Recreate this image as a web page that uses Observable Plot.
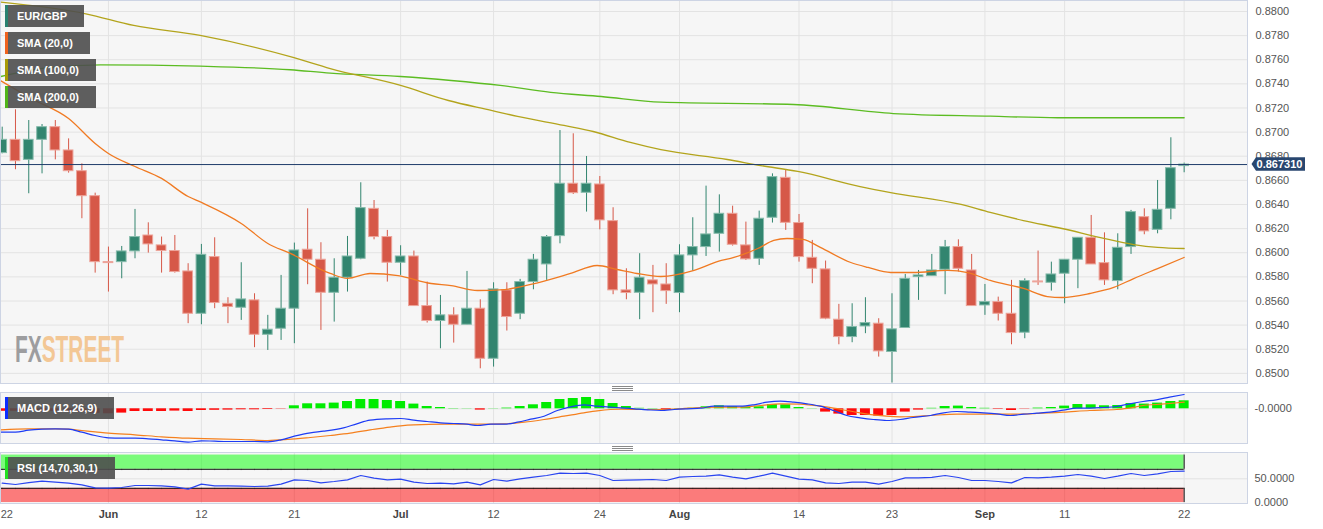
<!DOCTYPE html>
<html><head><meta charset="utf-8">
<script src="https://cdn.jsdelivr.net/npm/d3@7"></script>
<script src="https://cdn.jsdelivr.net/npm/@observablehq/plot@0.6"></script>
<style>
html,body{margin:0;padding:0;background:#fff;}
#chart{position:relative;width:1323px;height:529px;overflow:hidden;font-family:"Liberation Sans",Arial,sans-serif;}
.leg{position:absolute;left:5px;height:22px;line-height:22px;background:rgba(78,78,78,0.9);color:#fff;font-weight:bold;font-size:11px;padding-left:12px;padding-right:17px;box-sizing:border-box;white-space:nowrap;}
.leg::before{content:"";position:absolute;left:0;top:0;bottom:0;width:3px;background:var(--c);}
.handle{position:absolute;left:612px;width:21px;height:5px;box-sizing:border-box;border-top:1px solid #8a8a8a;border-bottom:1px solid #8a8a8a;}
.handle::after{content:"";position:absolute;left:0;right:0;top:1px;border-top:1px solid #8a8a8a;}
#wm{position:absolute;left:15px;top:332px;font-size:36px;line-height:36px;font-weight:bold;transform:scaleX(0.58);transform-origin:0 0;white-space:nowrap;}
</style>
</head>
<body>
<div id="chart"></div>
<script>
// ---- data ----
const xTickIndex = [0, 8, 15, 22, 30, 37, 45, 51, 60, 67, 74, 80, 89];
const xTickLabel = ["22", "Jun", "12", "21", "Jul", "12", "24", "Aug", "14", "23", "Sep", "11", "22"];
const monthNames = ["Jun", "Jul", "Aug", "Sep"];

const open = [0.86826,0.86936,0.86770,0.86936,0.87041,0.86848,0.86676,0.86469,0.85922,0.85922,
0.86011,0.86143,0.86061,0.86014,0.85845,0.85494,0.85964,0.85577,0.85544,0.85605,
0.85320,0.85370,0.85536,0.86025,0.85942,0.85668,0.85793,0.85950,0.86364,0.86130,
0.85917,0.85969,0.85558,0.85434,0.85481,0.85403,0.85536,0.85121,0.85688,0.85494,
0.85757,0.85903,0.86138,0.86572,0.86497,0.86566,0.86262,0.85688,0.85668,0.85771,
0.85737,0.85666,0.85978,0.86047,0.86157,0.86323,0.86061,0.85950,0.86290,0.86621,
0.86246,0.85958,0.85862,0.85445,0.85301,0.85389,0.85412,0.85177,0.85376,0.85798,
0.85806,0.85859,0.86047,0.85853,0.85563,0.85591,0.85494,0.85337,0.85762,0.85751,
0.85826,0.85942,0.86124,0.85914,0.85765,0.86047,0.86295,0.86190,0.86364,0.86718];
const high = [0.87041,0.87185,0.87096,0.87063,0.87096,0.86944,0.86737,0.86494,0.86047,0.86052,
0.86359,0.86248,0.86130,0.86143,0.85909,0.86069,0.86124,0.85627,0.85917,0.85660,
0.85481,0.85812,0.86080,0.86364,0.86083,0.85950,0.86135,0.86580,0.86433,0.86185,
0.86058,0.86014,0.85757,0.85646,0.85544,0.85845,0.85610,0.85751,0.85751,0.85779,
0.85986,0.86143,0.87013,0.86986,0.86798,0.86632,0.86373,0.85867,0.85992,0.85895,
0.85909,0.86066,0.86290,0.86552,0.86480,0.86386,0.86254,0.86345,0.86654,0.86688,
0.86317,0.86102,0.85931,0.85572,0.85577,0.85627,0.85453,0.85660,0.85820,0.85853,
0.85986,0.86102,0.86107,0.85986,0.85737,0.85632,0.85771,0.85784,0.86014,0.85922,
0.85942,0.86124,0.86309,0.86165,0.86157,0.86351,0.86364,0.86599,0.86953,0.86743];
const low = [0.86820,0.86688,0.86489,0.86654,0.86770,0.86660,0.86282,0.85831,0.85674,0.85784,
0.85950,0.85997,0.85831,0.85831,0.85412,0.85403,0.85536,0.85412,0.85439,0.85213,
0.85190,0.85273,0.85246,0.85735,0.85356,0.85425,0.85674,0.85942,0.86107,0.85757,
0.85812,0.85558,0.85417,0.85204,0.85251,0.85403,0.85038,0.85052,0.85351,0.85445,
0.85693,0.85771,0.86074,0.86483,0.86337,0.86190,0.85652,0.85610,0.85445,0.85503,
0.85572,0.85503,0.85848,0.85969,0.86005,0.86055,0.85936,0.85895,0.86246,0.86185,
0.85922,0.85743,0.85445,0.85237,0.85254,0.85329,0.85135,0.84920,0.85376,0.85605,
0.85806,0.85652,0.85840,0.85558,0.85481,0.85434,0.85237,0.85287,0.85729,0.85682,
0.85577,0.85702,0.85903,0.85729,0.85693,0.85986,0.86149,0.86157,0.86273,0.86663];
const close = [0.86936,0.86759,0.86936,0.87041,0.86848,0.86676,0.86469,0.85922,0.85914,0.86011,
0.86130,0.86069,0.86014,0.85840,0.85494,0.85983,0.85583,0.85550,0.85613,0.85320,
0.85362,0.85536,0.86019,0.85942,0.85668,0.85793,0.85969,0.86370,0.86130,0.85917,
0.85969,0.85558,0.85434,0.85481,0.85403,0.85536,0.85121,0.85696,0.85467,0.85757,
0.85942,0.86130,0.86572,0.86494,0.86572,0.86268,0.85688,0.85666,0.85793,0.85737,
0.85682,0.85978,0.86047,0.86152,0.86323,0.86066,0.85945,0.86282,0.86627,0.86248,
0.85964,0.85867,0.85453,0.85301,0.85384,0.85417,0.85182,0.85365,0.85784,0.85812,
0.85853,0.86047,0.85867,0.85558,0.85591,0.85494,0.85334,0.85765,0.85754,0.85820,
0.85942,0.86124,0.85903,0.85771,0.86041,0.86337,0.86177,0.86356,0.86701,0.86731];
const lastPrice = 0.867310;

const sma20 = [[-0.1,0.87425],[2.2,0.87279],[5,0.87113],[7,0.86906],[8,0.86823],[10,0.86715],[12,0.86616],[14,0.86466],[15,0.86417],[18,0.86243],[20,0.86077],[21.7,0.85994],[24.7,0.85828],[26,0.85787],[27.7,0.85828],[29.8,0.85811],[32.3,0.85745],[33.8,0.85728],[35.8,0.85687],[37.8,0.85695],[39.8,0.85737],[42.8,0.85828],[44.8,0.85894],[46.3,0.85861],[47.8,0.85828],[49.6,0.85803],[52.1,0.85853],[53.9,0.85928],[55.1,0.85961],[56.9,0.86035],[58.1,0.86102],[59.1,0.86118],[60.3,0.86110],[61.6,0.86044],[63.9,0.85919],[65.2,0.85878],[66.9,0.85836],[68.6,0.85836],[71.2,0.85853],[72.7,0.85836],[74.4,0.85770],[76.9,0.85704],[78.7,0.85637],[79.8,0.85629],[81.9,0.85662],[83.7,0.85712],[85.2,0.85786],[87,0.85869],[89,0.85961]];
const sma100 = [[-0.1,0.88077],[6.3,0.87981],[9.9,0.87884],[14.9,0.87801],[21.9,0.87619],[24.7,0.87527],[30,0.87387],[33.6,0.87262],[36.9,0.87179],[38.8,0.87130],[42.3,0.87055],[44.5,0.87005],[47.3,0.86914],[49.6,0.86854],[54.6,0.86773],[57.1,0.86723],[59.9,0.86674],[64.6,0.86549],[66.9,0.86499],[72.2,0.86400],[74.4,0.86334],[76.9,0.86267],[79.8,0.86201],[82.7,0.86126],[85.2,0.86068],[87,0.86044],[89,0.86035]];
const sma200 = [[-0.1,0.87461],[3.6,0.87536],[7.4,0.87558],[14.9,0.87547],[21.7,0.87517],[24.7,0.87489],[30,0.87461],[33.8,0.87428],[37.5,0.87387],[41.3,0.87329],[45.1,0.87295],[49.6,0.87248],[59.6,0.87229],[67.1,0.87154],[74.4,0.87132],[79.5,0.87119],[84.4,0.87119],[89,0.87119]];

const macdHist = [-0.00025,-0.00025,-0.0002,-0.0002,-0.00025,-0.0003,-0.00035,-0.00045,-0.0005,-0.00043,
-0.00027,-0.00027,-0.00027,-0.00023,-0.00027,-0.00017,-0.00015,-0.00013,-0.0001,-0.0001,
-0.00007,-0.00003,0.0003,0.0005,0.0005,0.00057,0.00073,0.00093,0.00093,0.00083,
0.00073,0.00047,0.00023,0.00013,0.00003,0.00002,-0.00013,0.00002,0.00007,0.00023,
0.0004,0.00063,0.00093,0.00103,0.00113,0.00093,0.00053,0.00023,0.00005,0.00003,
-0.00017,0.00003,0.00005,0.0002,0.0003,0.00023,0.00017,0.0002,0.00043,0.0004,
0.00013,0.00002,-0.00033,-0.00053,-0.00067,-0.00067,-0.00073,-0.00067,-0.00033,-0.00013,
0.00005,0.00023,0.00027,0.00013,0.00005,-0.00005,-0.00017,-0.00003,0.00007,0.00013,
0.00027,0.00043,0.0004,0.0003,0.00033,0.00053,0.00047,0.00057,0.00073,0.0008];
const macdLine = [[-0.1,-0.00234],[1,-0.00234],[2,-0.00214],[3,-0.00204],[4,-0.0020],[5,-0.00204],[6,-0.00234],[7,-0.00267],[8,-0.0029],[9,-0.00294],[10,-0.00294],[11,-0.003],[12,-0.0031],[13,-0.0032],[14,-0.00334],[15,-0.0032],[16,-0.00324],[17,-0.00327],[18,-0.00327],[19,-0.00327],[20,-0.0033],[21,-0.0031],[22,-0.00274],[23.2,-0.0024],[24.2,-0.00224],[25.7,-0.0019],[26.7,-0.0015],[27.7,-0.00114],[29,-0.001],[30,-0.00097],[31,-0.00114],[32,-0.00127],[33,-0.0014],[34,-0.00147],[35,-0.00154],[35.8,-0.00167],[36.8,-0.00154],[37.8,-0.00154],[38.8,-0.00134],[39.8,-0.00104],[40.8,-0.00074],[41.8,-0.00017],[42.8,0.0002],[43.8,0.0004],[44.8,0.00026],[45.8,0.00016],[46.6,0.0001],[47.6,0],[48.6,-0.0001],[49.6,-0.00017],[50.6,-0.00007],[51.6,0],[52.6,0.00006],[53.6,0.00026],[54.6,0.00026],[55.6,0.00026],[56.6,0.0004],[57.6,0.00066],[58.6,0.00076],[59.6,0.00066],[60.6,0.0005],[61.6,0.00026],[62.6,-0.00017],[63.6,-0.00067],[64.6,-0.0009],[65.6,-0.00107],[66.6,-0.00117],[67.6,-0.00107],[68.6,-0.00087],[69.9,-0.00067],[70.9,-0.0004],[71.9,-0.00027],[72.9,-0.00034],[73.9,-0.0004],[74.9,-0.0005],[75.9,-0.00067],[76.9,-0.00054],[77.9,-0.00044],[78.9,-0.00034],[79.9,-0.00014],[80.9,0.00006],[81.9,0.00006],[82.9,0.00013],[83.9,0.00023],[84.9,0.0005],[85.9,0.00073],[86.9,0.0009],[87.9,0.00116],[89,0.00143]];
const signalLine = [[-0.1,-0.0021],[2,-0.002],[4,-0.002],[5,-0.00204],[6,-0.00217],[7,-0.0023],[8,-0.00244],[10,-0.0026],[12,-0.0028],[14,-0.00294],[16,-0.003],[18,-0.00307],[20,-0.00317],[21.5,-0.00307],[23.2,-0.00287],[24.7,-0.00267],[26.2,-0.00244],[27.7,-0.0021],[29.2,-0.00184],[30,-0.0017],[31,-0.0016],[33.3,-0.00154],[35.8,-0.00154],[37.8,-0.0015],[39.3,-0.00134],[40.8,-0.00107],[42.3,-0.00074],[43.8,-0.0004],[44.8,-0.0002],[45.8,-0.00007],[46.6,-0.00004],[48.1,-0.00007],[49.6,-0.00007],[51.1,0],[52.6,0.00013],[54.1,0.00016],[55.6,0.00016],[57.1,0.00033],[58.6,0.0005],[60.1,0.00046],[61.6,0.00026],[62.6,0.00006],[63.6,-0.00017],[64.6,-0.0004],[65.6,-0.0006],[66.6,-0.00074],[67.6,-0.0008],[68.6,-0.00077],[69.9,-0.00067],[71.9,-0.00054],[73.9,-0.00054],[75.9,-0.00054],[77.9,-0.00047],[79.9,-0.00034],[81.9,-0.00017],[83.9,-0.00007],[84.9,0.00006],[85.9,0.00033],[86.9,0.00043],[87.9,0.00053],[89,0.00066]];

const rsi = [40.8,38.0,42,45.0,42.9,40.8,37.3,31.0,30.3,31.7,
35.9,35.9,35.2,33.1,28.2,38.7,35.2,35.2,34.5,33.8,
34.5,38.7,47.8,46.4,41.5,44.3,47.8,56.9,51.3,47.8,
49.2,42.9,40.1,40.8,39.4,42.9,37.3,48.5,45.0,49.9,
53.4,56.9,61.9,61.2,61.9,56.9,46.4,47.1,47.8,48.5,
46.4,53.4,54.8,55.5,58.3,53.4,49.9,55.5,61.9,55.5,
49.2,47.8,41.5,40.1,42.9,42.9,38.7,44.3,52.0,52.0,
53.0,56.9,52.7,46.4,46.4,44.3,41.5,52.7,52.0,53.4,
55.5,59.1,55.5,50.6,55.5,61.2,56.9,60.5,65.4,66.1];
const rsiUpper = 70, rsiLower = 30, rsiMax = 100, rsiMin = 0;

const priceTicks = [0.850,0.852,0.854,0.856,0.858,0.860,0.862,0.864,0.866,0.868,0.870,0.872,0.874,0.876,0.878,0.880];
const macdTicks = [0];
const macdTickLabels = ["-0.0000"];
const rsiTicks = [0, 50];
const rsiTickLabels = ["0.0000", "50.0000"];

const legendMain = [["EUR/GBP", "#2a8170"], ["SMA (20,0)", "#f0621e"], ["SMA (100,0)", "#a99a06"], ["SMA (200,0)", "#50b41a"]];

// ---- layout / styles ----
const W = 1323;
const xDomain = [-0.128, 93.77];
const priceDomain = [0.84916, 0.88091];
const macdDomain = [-0.00347, 0.00163];
const rsiDomain = [-2.0, 105.37];
const GRID = "#e3e3e3", FRAME = "#cdd4e4", BG = "#f6f6f6";
const GREEN = "#32856f", GREEN_EDGE = "#86bbab", RED = "#d65848", RED_EDGE = "#eda49a";
const AXIS_TEXT = "#555";
const font = "'Liberation Sans', Arial, sans-serif";
const lastIndex = open.length - 1;

const candles = open.map((o, i) => ({i, o, h: high[i], l: low[i], c: close[i]}));
const up = candles.filter(d => d.c >= d.o);
const down = candles.filter(d => d.c < d.o);
const idx = candles.map(d => d.i);
const hist = macdHist.map((v, i) => ({i, v}));
const xTicks = xTickIndex.map((i, k) => ({i, label: xTickLabel[k]}));
const gridX = xTickIndex.slice(1);

const chart = document.getElementById("chart");
function place(svg, top) {
  svg.style.position = "absolute";
  svg.style.left = "0px";
  svg.style.top = top + "px";
  chart.appendChild(svg);
}
const common = {width: W, marginLeft: 0, marginRight: 76, marginTop: 0,
  style: {background: "transparent", overflow: "visible", fontFamily: font}};

function priceTag(index, scales, values, dims) {
  if (!scales || typeof scales.y !== "function") return null;
  const y = scales.y(lastPrice);
  const x0 = dims.width - dims.marginRight;
  const g = d3.create("svg:g");
  g.append("path")
    .attr("d", `M${x0 + 4.5},${y} L${x0 + 9},${y - 6.75} H${x0 + 58} V${y + 6.75} H${x0 + 9} Z`)
    .attr("fill", "#28466f");
  g.append("text").attr("x", x0 + 32.5).attr("y", y).attr("dy", "0.36em")
    .attr("text-anchor", "middle").attr("fill", "#fff").attr("font-weight", "bold")
    .attr("font-size", 11).attr("font-family", font).text(lastPrice.toFixed(6));
  return g.node();
}

// ---- main price panel ----
const main = Plot.plot({
  ...common, height: 384, marginBottom: 1,
  x: {domain: xDomain, axis: null},
  y: {domain: priceDomain, axis: null},
  marks: [
    Plot.frame({fill: BG}),
    Plot.ruleY(priceTicks, {stroke: GRID}),
    Plot.ruleX(gridX, {stroke: GRID}),
    Plot.ruleX(up, {x: "i", y1: "l", y2: "h", stroke: GREEN, strokeWidth: 1}),
    Plot.ruleX(down, {x: "i", y1: "l", y2: "h", stroke: RED, strokeWidth: 1}),
    Plot.rect(up, {x1: d => d.i - 0.365, x2: d => d.i + 0.365, y1: "o", y2: "c", fill: GREEN, stroke: GREEN_EDGE, strokeWidth: 1}),
    Plot.rect(down, {x1: d => d.i - 0.365, x2: d => d.i + 0.365, y1: "o", y2: "c", fill: RED, stroke: RED_EDGE, strokeWidth: 1}),
    Plot.line(sma200, {x: d => d[0], y: d => d[1], stroke: "#5cbc22", strokeWidth: 1.3, curve: "monotone-x"}),
    Plot.line(sma100, {x: d => d[0], y: d => d[1], stroke: "#b3a41c", strokeWidth: 1.3, curve: "monotone-x"}),
    Plot.line(sma20, {x: d => d[0], y: d => d[1], stroke: "#f07a22", strokeWidth: 1.3, curve: "monotone-x"}),
    Plot.ruleY([lastPrice], {stroke: "#1f3c6b", strokeWidth: 1}),
    Plot.text(priceTicks, {y: d => d, text: d => d.toFixed(4), frameAnchor: "right", textAnchor: "start", dx: 8, fill: AXIS_TEXT, fontSize: 11}),
    Plot.frame({stroke: FRAME}),
    priceTag
  ]
});
place(main, 0);

// ---- MACD panel ----
const macd = Plot.plot({
  ...common, height: 52, marginBottom: 1,
  x: {domain: xDomain, axis: null},
  y: {domain: macdDomain, axis: null},
  marks: [
    Plot.frame({fill: BG}),
    Plot.ruleY(macdTicks, {stroke: GRID}),
    Plot.ruleX(gridX, {stroke: GRID}),
    Plot.rect(hist.filter(d => d.v >= 0), {x1: d => d.i - 0.375, x2: d => d.i + 0.375, y1: 0, y2: "v", fill: "#00ec00"}),
    Plot.rect(hist.filter(d => d.v < 0), {x1: d => d.i - 0.375, x2: d => d.i + 0.375, y1: 0, y2: "v", fill: "#ff0a0a"}),
    Plot.line(signalLine, {x: d => d[0], y: d => d[1], stroke: "#f5801e", strokeWidth: 1.2, curve: "monotone-x"}),
    Plot.line(macdLine, {x: d => d[0], y: d => d[1], stroke: "#1d3cf5", strokeWidth: 1.2, curve: "monotone-x"}),
    Plot.text(macdTicks, {y: d => d, text: (d, k) => macdTickLabels[k], frameAnchor: "right", textAnchor: "start", dx: 7, fill: AXIS_TEXT, fontSize: 11}),
    Plot.frame({stroke: FRAME})
  ]
});
place(macd, 392);

// ---- RSI panel (with date axis) ----
const bands = [{y1: rsiUpper, y2: rsiMax, fill: "rgba(0,255,0,0.5)"}, {y1: rsiMin, y2: rsiLower, fill: "rgba(255,0,0,0.5)"}];
const rsiPanel = Plot.plot({
  ...common, height: 77, marginBottom: 26,
  x: {domain: xDomain, axis: null},
  y: {domain: rsiDomain, axis: null},
  marks: [
    Plot.frame({fill: BG}),
    Plot.ruleY([50], {stroke: GRID}),
    Plot.ruleX(gridX, {stroke: GRID}),
    Plot.rect(bands.slice(0, 1), {x1: () => xDomain[0], x2: () => lastIndex, y1: "y1", y2: "y2", fill: "rgba(0,255,0,0.5)"}),
    Plot.rect(bands.slice(1), {x1: () => xDomain[0], x2: () => lastIndex, y1: "y1", y2: "y2", fill: "rgba(255,0,0,0.5)"}),
    Plot.ruleX(idx, {y1: rsiUpper, y2: rsiUpper - 2.8, stroke: "#333", strokeOpacity: 0.45}),
    Plot.ruleX(idx, {y1: rsiLower, y2: rsiLower - 2.8, stroke: "#333", strokeOpacity: 0.45}),
    Plot.ruleY([rsiUpper, rsiLower], {x1: () => xDomain[0], x2: () => lastIndex, stroke: "#111"}),
    Plot.ruleX([lastIndex], {y1: rsiUpper, y2: rsiMax, stroke: "#111"}),
    Plot.ruleX([lastIndex], {y1: rsiMin, y2: rsiLower, stroke: "#111"}),
    Plot.line(rsi, {x: (d, i) => i, y: d => d, stroke: "#2a45f0", strokeWidth: 1.2}),
    Plot.text(rsiTicks, {y: d => d, text: (d, k) => rsiTickLabels[k], frameAnchor: "right", textAnchor: "start", dx: 7, fill: AXIS_TEXT, fontSize: 11}),
    Plot.text(xTicks.filter((d, k) => k > 0 && !monthNames.includes(d.label)), {x: "i", text: "label", frameAnchor: "bottom", dy: 14, fill: AXIS_TEXT, fontSize: 11}),
    Plot.text(xTicks.filter(d => monthNames.includes(d.label)), {x: "i", text: "label", frameAnchor: "bottom", dy: 14, fill: "#444", fontSize: 11, fontWeight: "bold"}),
    Plot.text(xTicks.slice(0, 1), {x: "i", text: "label", frameAnchor: "bottom", dy: 14, dx: -1.5, textAnchor: "start", fill: AXIS_TEXT, fontSize: 11}),
    Plot.frame({stroke: FRAME})
  ]
});
place(rsiPanel, 452);

// ---- overlays: legends, handles, watermark ----
function legend(text, color, top) {
  const d = document.createElement("div");
  d.className = "leg";
  d.style.top = top + "px";
  d.style.setProperty("--c", color);
  d.textContent = text;
  chart.appendChild(d);
}
legendMain.forEach(([t, c], k) => legend(t, c, 5 + 27 * k));
legend("MACD (12,26,9)", "#0b2dff", 397);
legend("RSI (14,70,30,1)", "#22e022", 457);

[386, 446].forEach(t => {
  const h = document.createElement("div");
  h.className = "handle";
  h.style.top = t + "px";
  chart.appendChild(h);
});

const wm = document.createElement("div");
wm.id = "wm";
wm.innerHTML = '<span style="color:#9d9d9f">FX</span><span style="color:#f3c795">STREET</span>';
chart.appendChild(wm);
</script>
</body></html>
